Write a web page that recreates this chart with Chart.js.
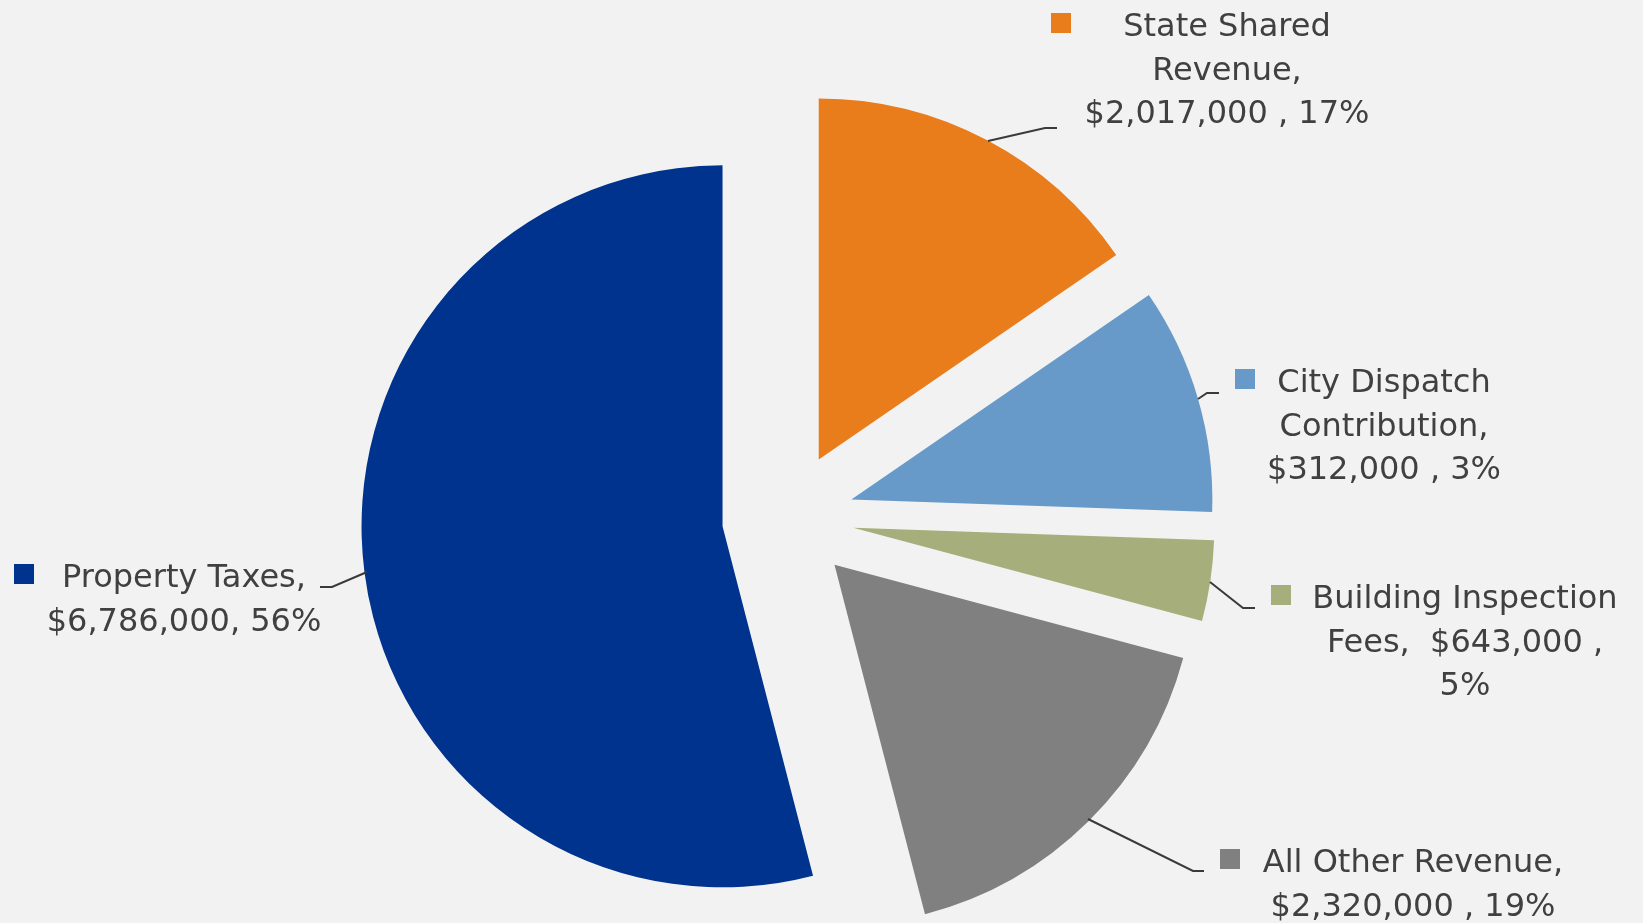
<!DOCTYPE html>
<html>
<head>
<meta charset="utf-8">
<title>Revenue Sources</title>
<script src="https://cdn.jsdelivr.net/npm/chart.js@4.4.1/dist/chart.umd.min.js"></script>
<style>
  html, body { margin: 0; padding: 0; background: #f2f2f2; }
  #wrap { position: relative; width: 1643px; height: 923px; }
</style>
</head>
<body>
<div id="wrap"><canvas id="revenuePie"></canvas></div>
<script>
// slices go clockwise from 12 o'clock
const categories = ['State Shared Revenue', 'City Dispatch Contribution', 'Building Inspection Fees', 'All Other Revenue', 'Property Taxes'];
// slice sizes as drawn (- the printed labels don't match them exactly)
const sliceValues = [1936000, 1273000, 453000, 2111000, 6786000];
// what the labels actually print
const labelLines = [
  ['State Shared', 'Revenue,', '$2,017,000 , 17%'],
  ['City Dispatch', 'Contribution,', '$312,000 , 3%'],
  ['Building Inspection', 'Fees,  $643,000 ,', '5%'],
  ['All Other Revenue,', '$2,320,000 , 19%'],
  ['Property Taxes,', '$6,786,000, 56%']
];
const sliceColors = ['#e97c1b', '#6799c9', '#a6ae7b', '#808080', '#00338d'];

// hand placed labels, like the original (text centre, first baseline, key x, leader polyline)
const labelLayout = [
  { cx: 1227, base: 36, keyX: 1051, leader: [[988, 141], [1045, 128], [1057, 128]] },
  { cx: 1384, base: 392, keyX: 1235, leader: [[1198, 399], [1207, 393], [1219, 393]] },
  { cx: 1465, base: 608, keyX: 1271, leader: [[1210, 582], [1243, 608], [1255, 608]] },
  { cx: 1413, base: 872, keyX: 1220, leader: [[1088, 819], [1193, 871], [1204, 871]] },
  { cx: 184, base: 587, keyX: 14, leader: [[367, 572], [332, 587], [320, 587]] }
];

const FONT = '32px "DejaVu Sans", sans-serif';
const LINE_H = 43.5;
const EXPLODE = 66;

// pull every slice out along its bisector (keeps the radius, unlike the offset option)
const explodePlugin = {
  id: 'explode',
  afterDatasetsUpdate(chart) {
    chart.getDatasetMeta(0).data.forEach(arc => {
      const mid = (arc.startAngle + arc.endAngle) / 2;
      arc.x += Math.cos(mid) * EXPLODE;
      arc.y += Math.sin(mid) * EXPLODE;
    });
  }
};

const labelPlugin = {
  id: 'sliceLabels',
  afterDraw(chart) {
    const ctx = chart.ctx;
    ctx.save();
    ctx.font = FONT;
    ctx.textAlign = 'center';
    ctx.textBaseline = 'alphabetic';
    labelLayout.forEach((lay, i) => {
      // leader line
      ctx.strokeStyle = '#3a3a3a';
      ctx.lineWidth = 2;
      ctx.beginPath();
      lay.leader.forEach(([x, y], k) => (k ? ctx.lineTo(x, y) : ctx.moveTo(x, y)));
      ctx.stroke();

      // text block
      ctx.fillStyle = '#404040';
      labelLines[i].forEach((line, k) => ctx.fillText(line, lay.cx, lay.base + k * LINE_H));

      // legend key
      ctx.fillStyle = sliceColors[i];
      ctx.fillRect(lay.keyX, Math.round(lay.base - 23), 20, 20);
    });
    ctx.restore();
  }
};

new Chart(document.getElementById('revenuePie'), {
  type: 'pie',
  data: {
    labels: categories,
    datasets: [{
      data: sliceValues,
      backgroundColor: sliceColors,
      borderWidth: 0,
      clip: false
    }]
  },
  options: {
    responsive: true,
    maintainAspectRatio: false,
    animation: false,
    radius: 361,
    layout: { padding: { left: 0, right: 67, top: 113, bottom: 0 } },
    plugins: {
      legend: { display: false },
      tooltip: { enabled: false }
    }
  },
  plugins: [explodePlugin, labelPlugin]
});
</script>
</body>
</html>
